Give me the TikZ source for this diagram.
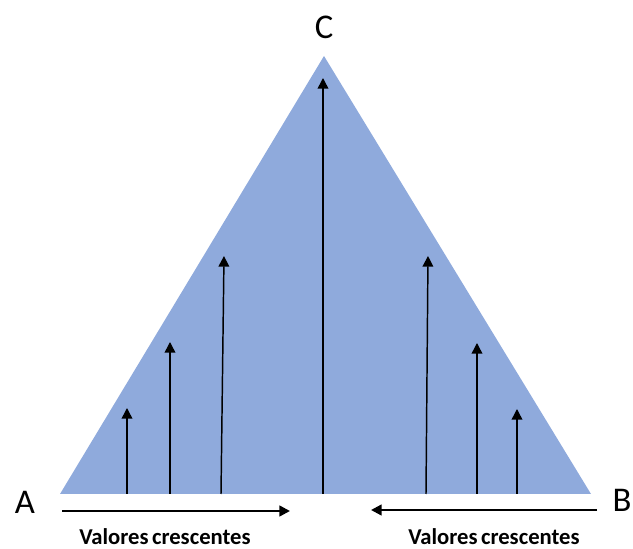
\documentclass[tikz,border=0pt]{standalone}
\usepackage{fontspec}
\setmainfont{Carlito}
\usetikzlibrary{arrows.meta, positioning}

\definecolor{triblue}{HTML}{8FAADC}

\tikzset{
  vertex/.style={font=\fontsize{26}{30}\selectfont, inner sep=0pt},
  riser/.style={line width=1.1pt, -{Triangle[width=8pt,length=8pt]}},
  sweep/.style={line width=1.8pt, -{Triangle[width=8pt,length=8pt]}},
  caption/.style={font=\bfseries\fontsize{17}{19}\selectfont, inner sep=0pt, anchor=base}
}

\begin{document}
\begin{tikzpicture}[x=0.75pt,y=-0.75pt]
  \useasboundingbox (0,0) rectangle (633,549);

  % corners of the triangle
  \coordinate (a) at (60,494);
  \coordinate (b) at (591,494);
  \coordinate (c) at (324,56);
  \fill[triblue] (a) -- (b) -- (c) -- cycle;

  % vertex labels
  \node[vertex] (lblA) at (25,502) {A};
  \node[vertex] (lblB) at (622,500) {B};
  \node[vertex] (lblC) [above=13pt of c] {C};

  % vertical arrows: base x / tip x / tip y
  \foreach \bx/\tx/\ty [count=\i] in {127/127/408, 170/170/342, 221/224/256,
                                       323/323/78, 426/428/256, 477/477/343, 517/517/409} {
    \coordinate (base\i) at (\bx,494);
    \coordinate (tip\i) at (\tx,\ty);
    \draw[riser] (base\i) -- (tip\i);
  }

  % bottom arrows
  \coordinate (leftstart) at (62,511);
  \coordinate (leftend) at (290,511);
  \coordinate (rightstart) at (597,510);
  \coordinate (rightend) at (371,510);
  \draw[sweep] (leftstart) -- (leftend);
  \draw[sweep] (rightstart) -- (rightend);

  \node[caption] (capL) at (165,545) {Valores\hspace{0.15em}crescentes};
  \node[caption] (capR) at (494,545) {Valores\hspace{0.15em}crescentes};

\end{tikzpicture}
\end{document}
